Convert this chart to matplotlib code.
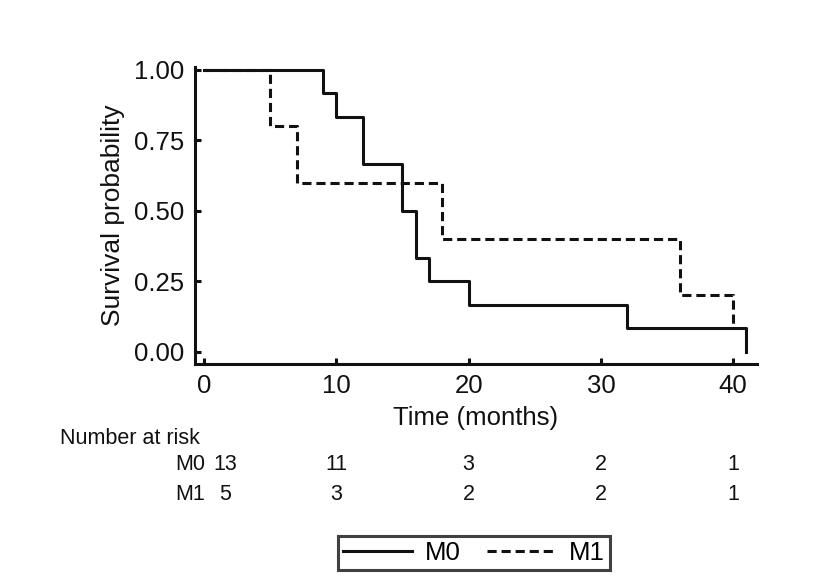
import matplotlib
matplotlib.use("Agg")
import matplotlib.pyplot as plt
import matplotlib.transforms as mtransforms

plt.rcParams['font.family'] = ['Liberation Sans', 'DejaVu Sans']

# Kaplan-Meier steps
m0_time = [0, 9, 10, 12, 15, 16, 17, 20, 32, 41]
m0_surv = [1.0, 0.917, 0.833, 0.667, 0.5, 0.333, 0.25, 0.167, 0.083, 0.0]
m1_time = [0, 5, 7, 18, 36, 40]
m1_surv = [1.0, 0.8, 0.6, 0.4, 0.2, 0.1]

# number at risk table
risk_times = [0, 10, 20, 30, 40]
risk_m0 = [13, 11, 3, 2, 1]
risk_m1 = [5, 3, 2, 2, 1]

W, H = 817, 580
fig = plt.figure(figsize=(W / 100, H / 100), dpi=100)
ax = fig.add_axes([195 / W, 1 - 364 / H, (757 - 195) / W, (364 - 67) / H])

lw = 2.2
ax.step(m1_time, m1_surv, where='post', color='#111111', lw=lw,
        linestyle=(0, (3.0, 1.6)), label='M1')
ax.step(m0_time, m0_surv, where='post', color='#111111', lw=lw,
        label='M0')

ax.set_xlim(-0.68, 41.8)
ax.set_ylim(-0.043, 1.01)
ax.set_xticks([0, 10, 20, 30, 40])
ax.set_yticks([0, 0.25, 0.5, 0.75, 1.0])
ax.set_yticklabels(['0.00', '0.25', '0.50', '0.75', '1.00'])
ax.tick_params(direction='in', length=4.5, width=lw, labelsize=18.5,
               colors='#111111', pad=8)
ax.tick_params(axis='x', pad=7)
for s in ['top', 'right']:
    ax.spines[s].set_visible(False)
for s in ['left', 'bottom']:
    ax.spines[s].set_linewidth(lw)
    ax.spines[s].set_color('#111111')

ax.set_ylabel('Survival probability', fontsize=19, color='#111111', labelpad=6)
ax.set_xlabel('Time (months)', fontsize=18.5, color='#111111', labelpad=6)

# number at risk
def fy(py):
    return 1 - py / H

fs_tab = 15.5
fig.text(60 / W, fy(439), 'Number at risk', fontsize=fs_tab, va='center',
         ha='left', color='#111111')
trans = mtransforms.blended_transform_factory(ax.transData, fig.transFigure)
for row_y, name, vals in [(465, 'M0', risk_m0), (494, 'M1', risk_m1)]:
    fig.text(175 / W, fy(row_y), name, fontsize=fs_tab, va='center',
             ha='left', color='#111111')
    for i, (t, v) in enumerate(zip(risk_times, vals)):
        xt = t + 1.6 if i == 0 else t
        fig.text(xt, fy(row_y), str(v), fontsize=fs_tab, va='center',
                 ha='center', color='#111111', transform=trans)

handles, labels = ax.get_legend_handles_labels()
leg = fig.legend(handles[::-1], labels[::-1], loc='center',
                 bbox_to_anchor=(474 / W, fy(553)), ncol=2, fontsize=18.5,
                 frameon=True, fancybox=False, handlelength=2.7,
                 handletextpad=0.5, columnspacing=1.0, borderpad=0.2,
                 borderaxespad=0)
leg.get_frame().set_edgecolor('#111111')
leg.get_frame().set_linewidth(2.2)

fig.savefig('out.png', dpi=100)
